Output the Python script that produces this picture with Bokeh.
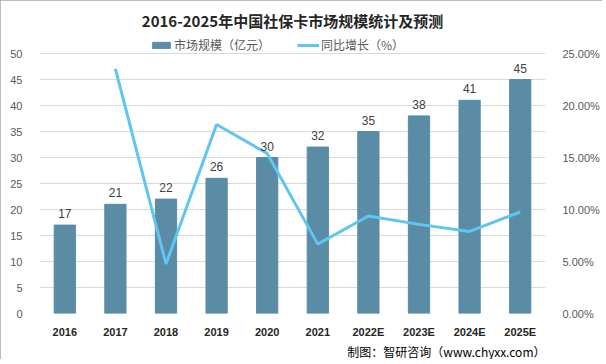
from bokeh.plotting import figure
from bokeh.models import (FactorRange, Range1d, LinearAxis, NumeralTickFormatter,
                          Legend, LegendItem, Title, FixedTicker)
from bokeh.core.properties import value
from bokeh.embed import file_html
from bokeh.resources import INLINE

years = ["2016", "2017", "2018", "2019", "2020", "2021", "2022E", "2023E", "2024E", "2025E"]
market = [17, 21, 22, 26, 30, 32, 35, 38, 41, 45]
growth = [float("nan"), 0.2353, 0.0476, 0.1818, 0.1538, 0.0667, 0.0938, 0.0857, 0.0789, 0.0976]
left_ticks = [0, 5, 10, 15, 20, 25, 30, 35, 40, 45, 50]
right_ticks = [0, 0.05, 0.10, 0.15, 0.20, 0.25]

title_text = "2016-2025年中国社保卡市场规模统计及预测"
bar_name = "市场规模（亿元）"
line_name = "同比增长（%）"
source_text = "制图：智研咨询（www.chyxx.com）"

CJK = "Noto Sans CJK SC"
NUM = "Liberation Sans"

# frame extended above the 50 gridline to host the legend (20px extra over 260px for 0..50)
ytop = 50 * 280 / 260
p = figure(x_range=FactorRange(*years), y_range=Range1d(0, ytop),
           frame_width=506, frame_height=280, output_backend="svg", toolbar_location=None,
           min_border_left=39, min_border_right=53, min_border_top=33, min_border_bottom=43)
p.extra_y_ranges = {"pct": Range1d(0, 0.25 * ytop / 50)}

p.title = Title(text=title_text, align="center", text_font=CJK, text_font_size="15px",
                text_font_style="bold", text_color="#262626", offset=0, standoff=6)

bars = p.vbar(x=years, top=market, width=0.42, color="#5b8ca6")
line = p.line(x=years, y=growth, y_range_name="pct", line_color="#5fc6f1", line_width=3)

p.text(x=years, y=market, text=[str(v) for v in market], y_offset=-7,
       text_align="center", text_baseline="bottom", text_font=value(NUM),
       text_font_size="12px", text_color="#404040")

p.yaxis.ticker = FixedTicker(ticks=left_ticks)
ax_r = LinearAxis(y_range_name="pct", ticker=FixedTicker(ticks=right_ticks),
                  formatter=NumeralTickFormatter(format="0.00%"))
p.add_layout(ax_r, "right")

for ax in [p.yaxis[0], ax_r]:
    ax.axis_line_color = None
    ax.major_tick_line_color = None
    ax.minor_tick_line_color = None
    ax.major_label_text_font = NUM
    ax.major_label_text_font_size = "11px"
    ax.major_label_text_color = "#595959"
    ax.major_label_standoff = 11

p.xaxis.axis_line_color = None
p.xaxis.major_tick_line_color = None
p.xaxis.minor_tick_line_color = None
p.xaxis.major_label_text_font = NUM
p.xaxis.major_label_text_font_size = "11px"
p.xaxis.major_label_text_font_style = "bold"
p.xaxis.major_label_text_color = "#262626"
p.xaxis.major_label_standoff = 6

p.xgrid.grid_line_color = None
p.ygrid.grid_line_color = "#d9d9d9"
p.ygrid.ticker = FixedTicker(ticks=left_ticks)
p.outline_line_color = None
p.x_range.range_padding = 0
p.x_range.group_padding = 0

legend = Legend(items=[LegendItem(label=bar_name, renderers=[bars]),
                       LegendItem(label=line_name, renderers=[line])],
                orientation="horizontal", location=(111, 260),
                label_text_font=CJK, label_text_font_size="12px", label_text_color="#595959",
                background_fill_alpha=0, border_line_color=None, spacing=27,
                glyph_width=22, glyph_height=8, label_standoff=2, padding=0, margin=0)
p.add_layout(legend, "center")

foot = Title(text=source_text, align="right", text_font=CJK, text_font_size="12px",
             text_font_style="normal", text_color="#000000", offset=0, standoff=0)
p.add_layout(foot, "below")

p.styles = {"outline": "1px solid #a6a6a6", "outline-offset": "-1px"}

open("out.html", "w").write(file_html(p, INLINE))
